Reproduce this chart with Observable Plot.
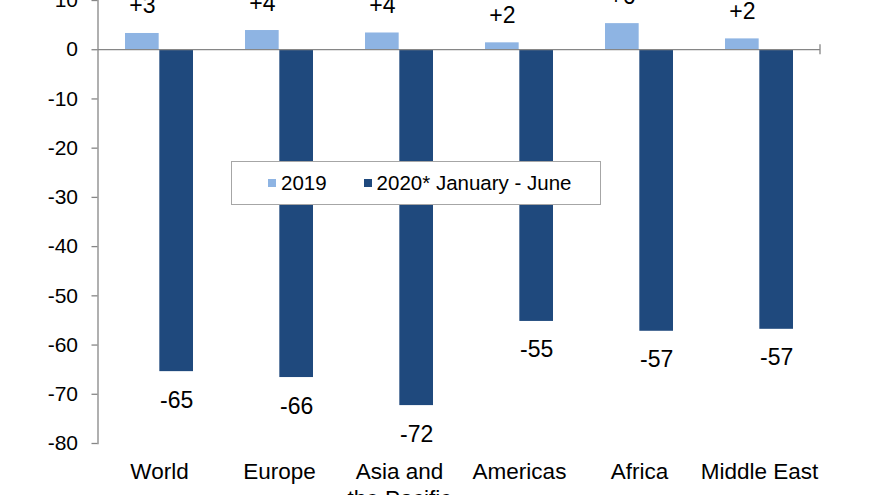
<!DOCTYPE html>
<html>
<head>
<meta charset="utf-8">
<script src="https://cdn.jsdelivr.net/npm/d3@7"></script>
<script src="https://cdn.jsdelivr.net/npm/@observablehq/plot@0.6"></script>
<style>
  html, body { margin: 0; padding: 0; background: #fff; }
  #wrap { position: relative; width: 880px; height: 495px; overflow: hidden; font-family: "Liberation Sans", Arial, sans-serif; }
  #legend { position: absolute; left: 231px; top: 161px; width: 370px; height: 44px; box-sizing: border-box;
            border: 1px solid #a6a6a6; background: #fff; display: flex; align-items: center;
            font-size: 20.5px; color: #000; padding-left: 36px; }
  .sw { display: inline-block; width: 8px; height: 8px; margin-right: 5px; }
  .item { display: flex; align-items: center; }
</style>
</head>
<body>
<div id="wrap">
  <div id="chart"></div>
  <div id="legend"></div>
</div>
<script>
// ---- data ----
const categories = ["World", "Europe", "Asia and the Pacific", "Americas", "Africa", "Middle East"];
const series = ["2019", "2020* January - June"];
const values2019 = [3.3, 3.9, 3.4, 1.4, 5.3, 2.2];
const values2020 = [-65.4, -66.6, -72.3, -55.2, -57.2, -56.8];
const labels2019 = ["+3", "+4", "+4", "+2", "+6", "+2"];
const labels2020 = ["-65", "-66", "-72", "-55", "-57", "-57"];
const yTicks = [10, 0, -10, -20, -30, -40, -50, -60, -70, -80];
const colors = ["#8EB4E3", "#1F497D"];

// ---- layout ----
const W = 880, H = 495;
const mL = 97.5, mR = 60, mT = 0, mB = 52;
const pad = 0.43;
const bw = (W - mL - mR) / categories.length * (1 - pad);

const rows2019 = categories.map((c, i) => ({category: c, value: values2019[i], label: labels2019[i]}));
const rows2020 = categories.map((c, i) => ({category: c, value: values2020[i], label: labels2020[i]}));

const axisGray = "#868686";

const plot = Plot.plot({
  width: W,
  height: H,
  marginLeft: mL,
  marginRight: mR,
  marginTop: mT,
  marginBottom: mB,
  style: {fontFamily: "'Liberation Sans', Arial, sans-serif", color: "#000", background: "#fff"},
  x: {domain: categories, paddingInner: pad, paddingOuter: pad / 2, axis: null},
  y: {domain: [-80, 10], axis: null},
  marks: [
    Plot.barY(rows2019, {x: "category", y: "value", fill: colors[0], insetRight: bw / 2}),
    Plot.barY(rows2020, {x: "category", y: "value", fill: colors[1], insetLeft: bw / 2}),
    Plot.ruleY([0], {stroke: axisGray, strokeWidth: 1.3}),
    Plot.frame({anchor: "left", stroke: axisGray, strokeWidth: 1.3}),
    Plot.axisY({ticks: yTicks, label: null, tickSize: 6, tickPadding: 14, fontSize: 21, stroke: axisGray, strokeWidth: 1.3, tickFormat: d => String(d)}),
    Plot.axisX({label: null, tickSize: 0, tickPadding: 16, fontSize: 22.5, lineHeight: 1.2,
                tickFormat: d => d.replace(" the ", "\nthe ")}),
    Plot.text(rows2019, {x: "category", y: "value", text: "label", dx: -bw / 4, dy: -20, lineAnchor: "bottom", fontSize: 23}),
    Plot.text(rows2020, {x: "category", y: "value", text: "label", dx: bw / 4, dy: 36, lineAnchor: "bottom", fontSize: 23})
  ]
});

// small end tick at the right end of the zero line
const y0 = plot.scale("y").apply(0);
d3.select(plot).append("line")
  .attr("x1", W - mR).attr("x2", W - mR)
  .attr("y1", y0 - 5).attr("y2", y0 + 5)
  .attr("stroke", axisGray).attr("stroke-width", 1.3);

document.getElementById("chart").appendChild(plot);

// legend
const legend = d3.select("#legend");
series.forEach((s, i) => {
  const it = legend.append("div").attr("class", "item").style("margin-right", i === 0 ? "37px" : "0");
  it.append("span").attr("class", "sw").style("background", colors[i]);
  it.append("span").text(s);
});
</script>
</body>
</html>
